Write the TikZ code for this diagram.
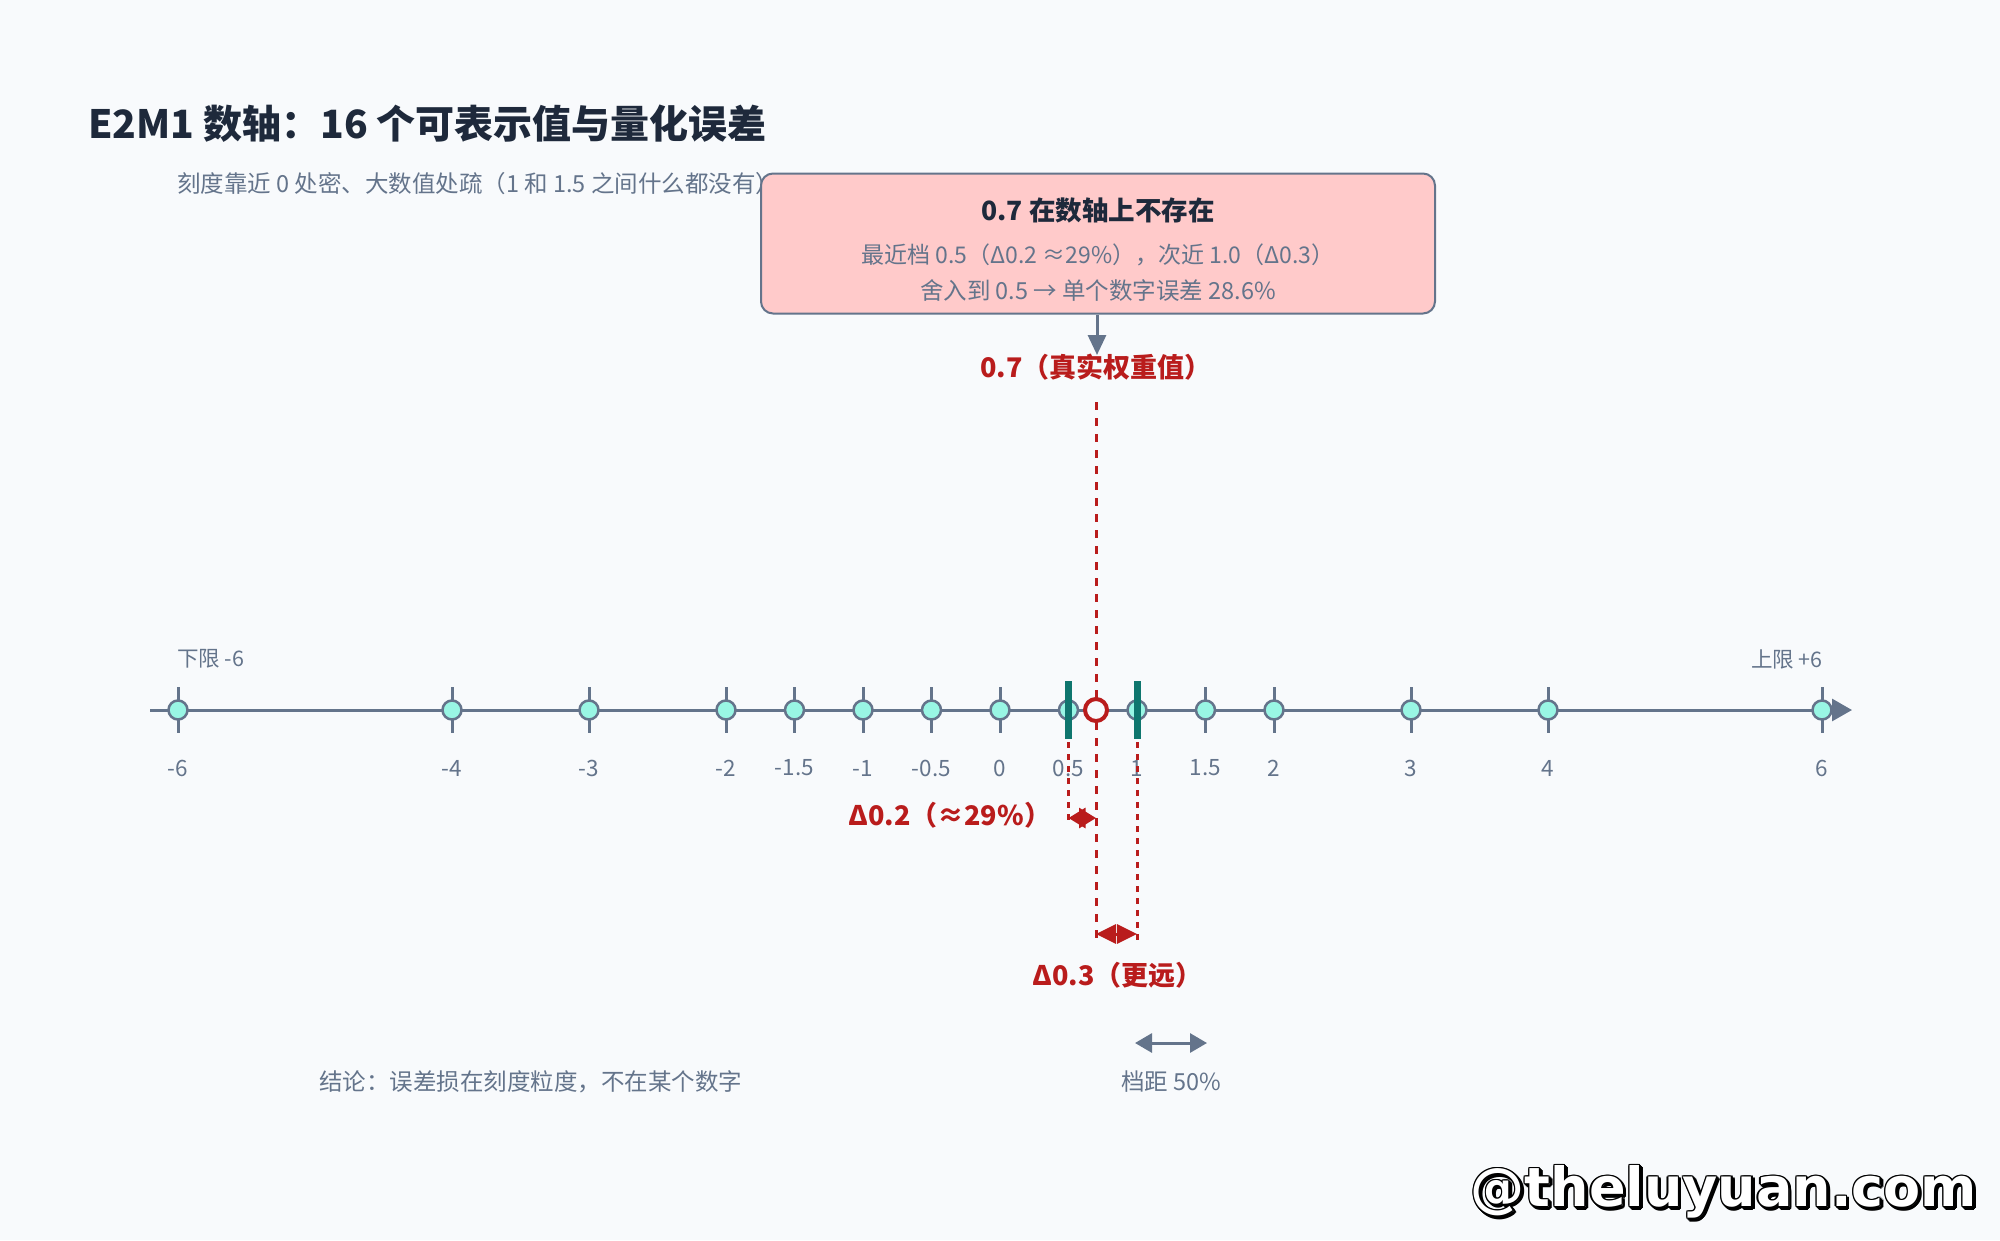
\documentclass[tikz,border=0pt]{standalone}
\usepackage{fontspec}
\setmainfont{Noto Sans CJK SC}
\newfontfamily\wmfont{DejaVu Sans Bold}
\usetikzlibrary{arrows.meta}
\definecolor{bg}{HTML}{F8FAFC}
\definecolor{slate}{HTML}{64748B}
\definecolor{ink}{HTML}{1E293B}
\definecolor{aqua}{HTML}{99F6E4}
\definecolor{tealbar}{HTML}{0F766E}
\definecolor{errred}{HTML}{B91C1C}
\definecolor{boxfill}{HTML}{FFCACA}
\begin{document}
\begin{tikzpicture}[x=1pt,y=-1pt,
  lbl/.style={font=\fontsize{23.5}{27}\selectfont, text=slate, inner sep=0pt},
  ticklbl/.style={font=\fontsize{22.5}{26}\selectfont, text=slate, inner sep=0pt},
  smalllbl/.style={font=\fontsize{21.5}{25}\selectfont, text=slate, inner sep=0pt},
  redlbl/.style={font=\fontsize{27}{31}\selectfont\bfseries, text=errred, inner sep=0pt},
  axisline/.style={draw=slate, line width=3pt, -{Triangle[length=20pt,width=22pt]}},
  tickmark/.style={draw=slate, line width=3pt},
  dot/.style={circle, draw=slate, line width=2.5pt, fill=aqua, minimum size=19pt, inner sep=0pt},
  truec/.style={circle, draw=errred, line width=4pt, fill=bg, minimum size=22pt, inner sep=0pt},
  barmark/.style={draw=tealbar, line width=7pt},
  reddash/.style={draw=errred, line width=3pt, dash pattern=on 8pt off 8pt},
  redthin/.style={draw=errred, line width=3pt, dash pattern=on 6pt off 6pt},
  redarrow/.style={draw=errred, line width=3pt, {Triangle[length=20pt,width=19pt]}-{Triangle[length=20pt,width=19pt]}},
  redarrowsm/.style={draw=errred, line width=3pt, {Triangle[length=17pt,width=20pt]}-{Triangle[length=17pt,width=20pt]}},
  slatearrow/.style={draw=slate, line width=3pt, -{Triangle[length=20pt,width=18pt]}},
  slatedbl/.style={draw=slate, line width=3pt, {Triangle[length=17pt,width=19pt]}-{Triangle[length=17pt,width=19pt]}},
  notebox/.style={draw=slate, line width=2pt, fill=boxfill, rounded corners=12pt, minimum width=674pt, minimum height=140pt, inner sep=0pt},
  wm/.style={font=\wmfont\fontsize{54}{60}\selectfont, inner sep=0pt}
]
\useasboundingbox (0,0) rectangle (2000,1240);
\fill[bg] (0,0) rectangle (2000,1240);

% title and subtitle
\node[anchor=west, inner sep=0pt, text=ink, font=\fontsize{39}{45}\selectfont\bfseries] (title) at (88,124) {E2M1 数轴：16 个可表示值与量化误差};
\node[anchor=west, lbl] (subtitle) at (177,184) {刻度靠近 0 处密、大数值处疏（1 和 1.5 之间什么都没有）};

% note box
\node[notebox] (note) at (1098,243.5) {};
\node[inner sep=0pt, text=ink, font=\fontsize{26.5}{30}\selectfont\bfseries] (notetitle) at (1098,210) {0.7 在数轴上不存在};
\node[lbl, font=\fontsize{23}{27}\selectfont] (noteline1) at (1098,255) {最近档 0.5（Δ0.2 ≈29\%），次近 1.0（Δ0.3）};
\node[lbl] (noteline2) at (1098,291) {舍入到 0.5 → 单个数字误差 28.6\%};

% true value label and arrow
\node[redlbl, anchor=west] (truelbl) at (980,367) {0.7（真实权重值）};
\coordinate (arrtip) at (1097,355);
\draw[slatearrow] (note.south -| arrtip) -- (arrtip);

% axis
\coordinate (axs) at (150,710);
\coordinate (axe) at (1852,710);
\draw[axisline] (axs) -- (axe);

% red vertical dashed line for 0.7
\coordinate (vtop) at (1096,402);
\coordinate (vbot) at (1096,942);
\draw[reddash] (vtop) -- (vbot);

% ticks, dots, labels
\foreach \v [count=\i] in {-6,-4,-3,-2,-1.5,-1,-0.5,0,0.5,1,1.5,2,3,4,6} {
  \draw[tickmark] ({1000+137*\v},687) -- ({1000+137*\v},733);
  \node[dot] (p\i) at ({1000+137*\v},710) {};
  \node[ticklbl] (t\i) at ({1000+137*\v},768) {\v};
}

% bounds
\node[smalllbl, anchor=west] (lo) at (177,659) {下限 -6};
\node[smalllbl, anchor=east] (hi) at (1823,659) {上限 +6};

% teal bars on 0.5 and 1
\draw[barmark] (1068.5,681) -- (1068.5,739);
\draw[barmark] (1137,681) -- (1137,739);

% true value marker
\node[truec] (tv) at (1096,710) {};

% dashed guides from 0.5 and 1
\coordinate (g05top) at (1068.5,742);
\coordinate (g05bot) at (1068.5,822);
\coordinate (g10top) at (1137,742);
\coordinate (g10bot) at (1137,942);
\draw[redthin] (g05top) -- (g05bot);
\draw[redthin] (g10top) -- (g10bot);

% delta arrows
\coordinate (a05) at (1068.5,818);
\coordinate (a07) at (1096,818);
\draw[redarrowsm] (a05) -- (a07);
\coordinate (b07) at (1096,934);
\coordinate (b10) at (1137,934);
\draw[redarrow] (b07) -- (b10);
\node[redlbl, anchor=west] (d02) at (848,815) {Δ0.2（≈29\%）};
\node[redlbl, anchor=west] (d03) at (1032,975) {Δ0.3（更远）};

% bottom legend
\node[lbl, anchor=west] (concl) at (319,1082) {结论：误差损在刻度粒度，不在某个数字};
\coordinate (s1) at (1135,1043);
\coordinate (s2) at (1207,1043);
\draw[slatedbl] (s1) -- (s2);
\node[lbl] (gap) at (1171,1082) {档距 50\%};

% watermark (white letters with a thin black outline and offset shadow)
\foreach \a in {0,45,...,315} {
  \node[wm, text=black, shift={(\a:1.5)}] at (1726,1194) {@theluyuan.com};
}
\node[wm, text=white] at (1725,1193) {@theluyuan.com};
\foreach \a in {0,45,...,315} {
  \node[wm, text=black, shift={(\a:1.5)}] at (1724,1192) {@theluyuan.com};
}
\node[wm, text=white] (wmark) at (1724,1192) {@theluyuan.com};
\end{tikzpicture}
\end{document}
